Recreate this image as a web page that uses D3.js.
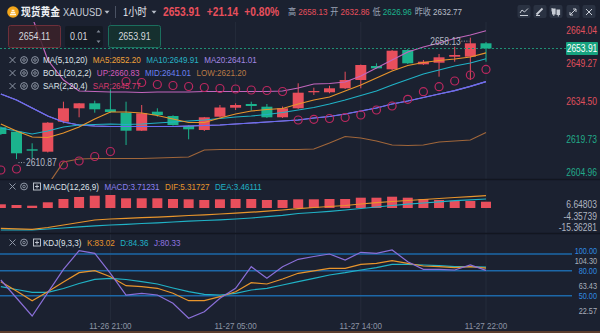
<!DOCTYPE html>
<html><head><meta charset="utf-8">
<script src="https://cdn.jsdelivr.net/npm/d3@7/dist/d3.min.js"></script>
<style>html,body{margin:0;padding:0;background:#1b2130;overflow:hidden}svg{display:block}</style>
</head><body><svg id="c" width="600" height="333"></svg>
<script>
// ---------------- DATA ----------------
const times = ["11-26 14:00","11-26 15:00","11-26 16:00","11-26 17:00","11-26 18:00","11-26 19:00","11-26 20:00","11-26 21:00",
"11-26 22:00","11-26 23:00","11-27 00:00","11-27 01:00","11-27 02:00","11-27 03:00","11-27 04:00","11-27 05:00",
"11-27 07:00","11-27 08:00","11-27 09:00","11-27 10:00","11-27 11:00","11-27 12:00","11-27 13:00","11-27 14:00",
"11-27 15:00","11-27 16:00","11-27 17:00","11-27 18:00","11-27 19:00","11-27 20:00","11-27 21:00","11-27 22:00"];
const open  = [2623.25,2621.53,2614.69,2613.75,2625.43,2630.64,2632.58,2630.25,2628.93,2621.92,2629.32,2627.64,2623.75,2622.20,2627.37,2630.87,2632.31,2631.26,2627.14,2630.64,2636.87,2636.87,2638.42,2641.65,2647.10,2645.81,2653.32,2647.76,2648.38,2650.72,2650.72,2655.93];
const high  = [2623.56,2621.92,2617.02,2625.31,2633.21,2632.70,2633.60,2638.03,2633.21,2631.92,2630.64,2627.92,2624.02,2627.26,2631.92,2632.58,2633.21,2632.31,2631.34,2640.37,2638.65,2639.43,2644.88,2647.68,2648.15,2653.32,2653.71,2649.43,2651.77,2654.61,2658.13,2656.44];
const low   = [2620.25,2610.87,2611.18,2613.44,2624.80,2627.14,2628.93,2628.81,2616.36,2621.81,2627.37,2623.87,2618.58,2621.81,2627.14,2629.98,2629.71,2626.86,2626.86,2630.37,2635.81,2636.48,2638.15,2638.42,2646.13,2645.54,2647.88,2647.49,2642.94,2648.77,2641.65,2648.77];
const close = [2620.64,2613.13,2614.14,2625.04,2630.64,2632.58,2630.25,2629.20,2621.92,2628.69,2628.03,2624.14,2622.47,2627.14,2630.95,2631.92,2631.53,2627.14,2630.64,2636.71,2637.37,2638.42,2641.65,2647.49,2646.20,2653.05,2648.15,2648.77,2650.48,2651.38,2655.93,2653.91];
const ma5   = [2624.53,2621.81,2619.47,2619.28,2621.03,2623.36,2626.48,2629.20,2629.20,2628.81,2627.84,2626.48,2625.11,2625.11,2626.86,2628.42,2629.59,2630.17,2630.56,2632.31,2633.87,2635.04,2637.37,2639.71,2642.43,2645.15,2647.29,2648.46,2649.24,2649.82,2650.60,2652.20];
const ma10  = [2622.97,2621.81,2620.64,2621.81,2623.36,2624.14,2624.34,2624.53,2624.34,2624.53,2624.92,2625.31,2625.70,2626.09,2626.67,2627.25,2627.64,2628.23,2629.01,2629.98,2630.95,2632.31,2633.87,2635.62,2637.37,2639.71,2641.85,2643.99,2645.54,2647.10,2648.27,2649.91];
const ma20  = [2636.20,2633.87,2630.76,2627.64,2625.31,2624.14,2623.75,2623.56,2623.56,2623.56,2623.56,2623.56,2623.75,2623.95,2624.14,2624.53,2624.92,2625.31,2625.70,2626.09,2626.87,2627.45,2628.42,2629.59,2630.76,2632.31,2633.48,2634.84,2636.20,2637.50,2639.20,2641.01];
const bollUp  = [2696.00,2680.60,2666.20,2649.43,2641.65,2637.37,2637.18,2636.98,2636.98,2636.79,2636.98,2636.98,2636.98,2637.18,2637.18,2637.18,2637.18,2637.18,2637.37,2638.54,2640.09,2640.29,2640.87,2643.21,2646.32,2649.43,2652.55,2654.49,2656.05,2657.80,2659.16,2660.83];
const bollMid = ma20;
const bollLow = [2571.60,2581.34,2593.01,2600.79,2609.74,2610.91,2611.11,2611.11,2611.11,2611.11,2611.30,2611.50,2611.69,2614.41,2614.61,2614.61,2614.61,2614.61,2614.61,2614.61,2614.80,2617.14,2619.67,2619.08,2617.91,2616.36,2616.16,2616.36,2617.53,2617.91,2618.30,2621.20];
const sar = [2606.63,2607.02,null,null,2608.58,2610.13,2611.88,2613.83,2641.07,2640.68,2639.90,2639.51,2639.12,2638.73,2638.34,2638.15,2637.76,2637.57,2637.18,2626.09,2626.36,2626.67,2627.06,2628.03,2629.98,2631.53,2634.14,2637.10,2639.04,2641.26,2643.60,2645.77];
const macdHist = [3.28,2.66,2.04,5.06,7.99,9.76,10.91,11.54,8.61,8.61,8.61,7.99,7.72,7.10,7.72,7.99,7.99,7.10,7.10,7.72,7.72,7.99,7.99,9.14,9.14,10.03,9.14,7.99,7.10,6.48,6.21,5.59];
const dif = [-18.0,-18.46,-18.9,-17.3,-15.08,-12.87,-10.65,-9.76,-9.14,-8.61,-8.07,-7.36,-6.65,-6.03,-5.32,-4.53,-3.73,-2.84,-1.77,-0.53,0.44,1.33,2.22,3.55,4.70,5.77,6.65,7.54,8.43,9.32,10.12,10.91];
const dea = [-19.52,-19.52,-19.52,-18.63,-17.75,-16.68,-15.79,-15.08,-14.46,-13.75,-13.13,-12.42,-11.71,-11.09,-10.47,-9.76,-8.87,-7.72,-6.48,-4.88,-3.99,-2.93,-1.77,-0.44,0.89,2.22,3.37,4.44,5.50,6.57,7.28,7.99];
const kVal = [66.79,55.64,44.0,54.8,66.43,77.58,79.98,72.78,61.99,60.79,58.87,52.88,44.0,44.0,48.8,54.8,65.59,64.03,70.02,76.86,79.86,82.85,82.85,87.65,88.85,91.97,88.85,85.61,84.77,83.57,84.77,83.02];
const dVal = [60.79,57.43,54.08,54.08,58.63,64.63,69.66,70.86,69.42,66.79,64.03,59.23,54.8,51.68,50.84,52.88,56.83,58.87,62.83,66.79,70.86,74.82,77.58,80.82,83.57,87.65,87.65,86.81,85.97,84.77,84.77,84.36];
const jVal = [68.82,47.24,25.66,53.6,81.65,103.96,100.84,76.86,50.84,52.88,50.84,40.89,22.9,30.82,46.88,58.87,84.77,70.86,84.77,93.65,97.0,100,92.81,102.04,100.84,104.8,90.77,81.65,81.65,80.82,86.81,80.33];

const priceTicks = [2664.04,2649.27,2634.50,2619.73,2604.96];
const macdTicks = [6.64803,-4.35739,-15.36281];
const macdLegend = [["MACD",3.71231],["DIF",5.31727],["DEA",3.46111]];
const kdjLevels = [100,80,50];
const kdjTicks = [104.30,63.43,22.57];
const xTickLabels = ["11-26 21:00","11-27 05:00","11-27 14:00","11-27 22:00"];
const quote = ["2653.91","+21.14","+0.80%"];
const statLabels = ["高","开","低","昨收"];
const statValues = [2658.13,2632.86,2626.96,2632.77];
const prevClose = 2632.77;
const bidAsk = ["2654.11","0.01","2653.91"];

// ---------------- STYLE ----------------
const BG="#1b2130", RED="#e84f5c", GRN="#1bb38d";
const C_MA5="#e8952c", C_MA10="#20b2c6", C_MA20="#9a7fe0", C_MID="#6a6cf0", C_UP="#c266bd", C_LOW="#a0663a", C_SAR="#bb285f", C_J="#8a6fd8";
const FF="'Liberation Sans', Arial, 'Noto Sans CJK SC', sans-serif";
const SX=0.85;

const svg=d3.select('#c');
svg.append('rect').attr('width',600).attr('height',333).attr('fill',BG);
const defs=svg.append('defs');
function clip(id,x,y,w,h){defs.append('clipPath').attr('id',id).append('rect').attr('x',x).attr('y',y).attr('width',w).attr('height',h);}
clip('cMain',0,22,566,157); clip('cMacd',0,190,566,43); clip('cKdj',0,236,566,85);

function T(g,x,y,s,o={}){
  return g.append('text').attr('transform',`translate(${x},${y}) scale(${o.sx||SX},1)`)
   .attr('dy','0.35em').attr('font-family',FF).attr('font-size',o.fs||9.5)
   .attr('font-weight',o.fw||'normal').attr('fill',o.c||'#dfe3ea')
   .attr('text-anchor',o.a||'start').text(s);
}
function tw(t){return t.node().getComputedTextLength()*SX;}

// ---------------- SCALES ----------------
const x=d3.scalePoint().domain(times).range([486-31*15.65,486]);
const yP=d3.scaleLinear().domain([2653.91,2610.87]).range([48.5,159.1]);
const yM=d3.scaleLinear().domain([0,10]).range([208,196.73]);
const yK=d3.scaleLinear().domain([100,50]).range([254,295.7]);
const yKT=d3.scaleLinear().domain([104.30,63.43]).range([260.8,286]);
const idx=d3.range(times.length);
const cw=11;

svg.append('g').selectAll('line').data(xTickLabels).join('line')
 .attr('x1',d=>x(d)).attr('x2',d=>x(d)).attr('y1',22).attr('y2',320)
 .attr('stroke','#252c3b').attr('stroke-width',1);
[179.5,233.5].forEach(y=>svg.append('line').attr('x1',0).attr('x2',600).attr('y1',y).attr('y2',y).attr('stroke','#121620').attr('stroke-width',1.5));

// ---------------- MAIN PANEL ----------------
const main=svg.append('g').attr('clip-path','url(#cMain)');
const lineP=d3.line().defined(d=>d!=null).x((d,i)=>x(times[i])).y(d=>yP(d));
const cg=main.append('g');
cg.selectAll('line').data(idx).join('line')
 .attr('x1',i=>x(times[i])).attr('x2',i=>x(times[i]))
 .attr('y1',i=>yP(high[i])).attr('y2',i=>yP(low[i]))
 .attr('stroke',i=>close[i]>=open[i]?RED:GRN).attr('stroke-width',1);
cg.selectAll('rect').data(idx).join('rect')
 .attr('x',i=>x(times[i])-cw/2).attr('width',cw)
 .attr('y',i=>yP(Math.max(open[i],close[i])))
 .attr('height',i=>Math.max(1,Math.abs(yP(open[i])-yP(close[i]))))
 .attr('fill',i=>close[i]>=open[i]?RED:GRN);
[[bollLow,C_LOW],[bollUp,C_UP],[ma20,C_MA20],[bollMid,C_MID],[ma10,C_MA10],[ma5,C_MA5]].forEach(([arr,c])=>{
  main.append('path').attr('d',lineP(arr)).attr('fill','none').attr('stroke',c).attr('stroke-width',1.2);
});
main.append('g').selectAll('circle').data(idx.filter(i=>sar[i]!=null)).join('circle')
 .attr('cx',i=>x(times[i])).attr('cy',i=>yP(sar[i])).attr('r',4)
 .attr('fill','none').attr('stroke',C_SAR).attr('stroke-width',1.2);

const hi=d3.maxIndex(high), lo=d3.minIndex(low);
const hy=yP(high[hi])+3.5, ly=yP(low[lo])+3.5;
main.append('line').attr('x1',x(times[hi])-9).attr('x2',x(times[hi])-1).attr('y1',hy).attr('y2',hy).attr('stroke','#9aa1ad').attr('stroke-dasharray','1,1.5');
T(main,x(times[hi])-9.5,hy,high[hi].toFixed(2),{a:'end',c:'#b4bac5',fs:10});
main.append('line').attr('x1',x(times[lo])+2).attr('x2',x(times[lo])+9).attr('y1',ly).attr('y2',ly).attr('stroke','#9aa1ad').attr('stroke-dasharray','1,1.5');
T(main,x(times[lo])+9.5,ly,low[lo].toFixed(2),{c:'#b4bac5',fs:10});

const last=close[close.length-1], cy=yP(last);
svg.append('line').attr('x1',0).attr('x2',566).attr('y1',cy).attr('y2',cy).attr('stroke','#1f8f74').attr('stroke-dasharray','2,2').attr('stroke-width',1);
priceTicks.forEach(v=>{
  const y=Math.max(30,Math.min(172,yP(v)+3.5));
  T(svg,597,y,v.toFixed(2),{a:'end',fs:10,c:v>prevClose?'#e0505d':'#22ab8a'});
});
svg.append('rect').attr('x',566).attr('y',cy-6.5).attr('width',32).attr('height',13).attr('rx',1).attr('fill','#17a27f');
T(svg,582,cy,last.toFixed(2),{a:'middle',fs:10,c:'#ffffff'});

// ---------------- MACD PANEL ----------------
const mg=svg.append('g').attr('clip-path','url(#cMacd)');
mg.selectAll('rect').data(idx).join('rect')
 .attr('x',i=>x(times[i])-5).attr('width',10)
 .attr('y',i=>Math.min(yM(0),yM(macdHist[i]))).attr('height',i=>Math.abs(yM(macdHist[i])-yM(0)))
 .attr('fill',i=>macdHist[i]>=0?RED:GRN);
const lineM=d3.line().x((d,i)=>x(times[i])).y(d=>yM(d));
mg.append('path').attr('d',lineM(dea)).attr('fill','none').attr('stroke',C_MA10).attr('stroke-width',1.2);
mg.append('path').attr('d',lineM(dif)).attr('fill','none').attr('stroke',C_MA5).attr('stroke-width',1.2);
macdTicks.forEach(v=>{
  const y=Math.min(227.5,yM(v)+3.5);
  T(svg,597,y,v.toFixed(5),{a:'end',fs:10,c:'#aeb4c0'});
});

// ---------------- KDJ PANEL ----------------
kdjLevels.forEach(v=>{
  svg.append('line').attr('x1',0).attr('x2',572).attr('y1',yK(v)).attr('y2',yK(v)).attr('stroke','#1d68a8').attr('stroke-width',1.5);
});
const kg=svg.append('g').attr('clip-path','url(#cKdj)');
const lineK=d3.line().x((d,i)=>x(times[i])).y(d=>yK(d));
[[dVal,C_MA10],[kVal,C_MA5],[jVal,C_J]].forEach(([a,c])=>kg.append('path').attr('d',lineK(a)).attr('fill','none').attr('stroke',c).attr('stroke-width',1.2));
kdjTicks.forEach(v=>T(svg,597,Math.min(312.7,yKT(v)),v.toFixed(2),{a:'end',fs:8.6,c:'#aab0bb'}));
kdjLevels.forEach(v=>T(svg,597,yK(v)+(v===100?-3.5:(v===80?0.6:0)),v.toFixed(2),{a:'end',fs:8.6,c:'#2f8be0'}));

xTickLabels.forEach(s=>T(svg,x(s),326,s,{a:'middle',fs:9.5,c:'#8d95a5'}));
svg.append('rect').attr('x',0).attr('y',331).attr('width',600).attr('height',2).attr('fill','#5c3d2c');

// ---------------- LEGENDS ----------------
function icoX(g,cx,cy){g.append('path').attr('d',`M${cx-3},${cy-3}L${cx+3},${cy+3}M${cx+3},${cy-3}L${cx-3},${cy+3}`).attr('stroke','#8f97a6').attr('stroke-width',1);}
function icoGear(g,cx,cy){g.append('circle').attr('cx',cx).attr('cy',cy).attr('r',3.4).attr('fill','none').attr('stroke','#8f97a6').attr('stroke-width',1);
 g.append('circle').attr('cx',cx).attr('cy',cy).attr('r',1.3).attr('fill','none').attr('stroke','#8f97a6').attr('stroke-width',0.9);}
function icoBox(g,cx,cy){g.append('rect').attr('x',cx-3.5).attr('y',cy-3.5).attr('width',7).attr('height',7).attr('fill','none').attr('stroke','#c9ced8').attr('stroke-width',0.9);
 g.append('path').attr('d',`M${cx-2},${cy}H${cx+2}M${cx},${cy-2}V${cy+2}`).attr('stroke','#c9ced8').attr('stroke-width',0.9);}
function legendRow(y,items,boxIcon){
  icoX(svg,12.5,y); icoGear(svg,24,y);
  if(boxIcon) icoBox(svg,37,y); else icoGear(svg,35,y);
  let xx=43;
  items.forEach(([s,c])=>{const t=T(svg,xx,y,s,{c,fs:9.5}); xx+=tw(t)+5.5;});
}
const L=a=>a[a.length-1];
legendRow(60,[["MA(5,10,20)","#dfe3ea"],["MA5:"+L(ma5).toFixed(2),"#f0a23b"],["MA10:"+L(ma10).toFixed(2),"#27b3c6"],["MA20:"+L(ma20).toFixed(2),"#a387e4"]]);
legendRow(73,[["BOLL(20,2,2)","#dfe3ea"],["UP:"+L(bollUp).toFixed(2),"#d45bbd"],["MID:"+L(bollMid).toFixed(2),"#6a80f2"],["LOW:"+L(bollLow).toFixed(2),"#b97a45"]]);
legendRow(86,[["SAR(2,20,4)","#dfe3ea"],["SAR:"+L(sar).toFixed(2),"#d83a6f"]]);
legendRow(186.5,[["MACD(12,26,9)","#dfe3ea"],[macdLegend[0][0]+":"+macdLegend[0][1].toFixed(5),"#8c80f0"],[macdLegend[1][0]+":"+macdLegend[1][1].toFixed(5),"#e8952c"],[macdLegend[2][0]+":"+macdLegend[2][1].toFixed(5),"#20b2c6"]],true);
legendRow(242.5,[["KDJ(9,3,3)","#dfe3ea"],["K:"+L(kVal).toFixed(2),"#e8952c"],["D:"+L(dVal).toFixed(2),"#20b2c6"],["J:"+L(jVal).toFixed(2),"#8f74e0"]],true);

// ---------------- HEADER ----------------
svg.append('circle').attr('cx',13).attr('cy',12).attr('r',5.8).attr('fill','#f2a51a');
svg.append('path').attr('d','M10,14.5h6M10.8,12.5h4.4M11.6,10.5h2.8').attr('stroke','#fff6e0').attr('stroke-width',1.3);
T(svg,21,12,"现货黄金",{fs:11.5,fw:'bold',c:'#eef0f4'});
T(svg,63,12,"XAUUSD",{fs:11,c:'#c9ced8'});
function caret(cx,cy){svg.append('path').attr('d',`M${cx-2.5},${cy-1.2}L${cx+2.5},${cy-1.2}L${cx},${cy+1.8}Z`).attr('fill','#b7bdc8');}
caret(107,12);
svg.append('line').attr('x1',115.5).attr('x2',115.5).attr('y1',6).attr('y2',18).attr('stroke','#4a5263');
T(svg,123,12,"1小时",{fs:11,c:'#e6e8ee'});
caret(154,12);
let hx=163;
quote.forEach((s,i)=>{const t=T(svg,hx,12,s,{fs:12,fw:'bold',c:RED}); hx+=tw(t)+(i==0?7:6);});
hx=288;
statLabels.forEach((s,i)=>{
  const t1=T(svg,hx,12,s,{fs:9.5,c:'#9aa3b5'}); hx+=tw(t1)+2.2;
  const v=statValues[i], c=v>prevClose?RED:(v<prevClose?GRN:'#b8bec9');
  const t2=T(svg,hx,12,v.toFixed(2),{fs:9.5,c}); hx+=tw(t2)+2.8;
});
const btn=[524,540,556,573,589];
btn.forEach(cx=>svg.append('rect').attr('x',cx-6.5).attr('y',5).attr('width',13).attr('height',13).attr('rx',2).attr('fill','#2a3242'));
const ic=svg.append('g').attr('stroke','#c8cdd6').attr('fill','none').attr('stroke-width',1);
ic.append('path').attr('d','M520,13L522,10L524.5,12L528,8.5M520,15.5H528');
ic.append('path').attr('d','M536.5,14.5L542.5,8.5').attr('stroke-width',1.8);
ic.append('path').attr('d','M536,15.5H540');
ic.append('rect').attr('x',552.5).attr('y',9).attr('width',2.6).attr('height',5).attr('fill','#c8cdd6');
ic.append('rect').attr('x',557).attr('y',10).attr('width',2.6).attr('height',4.5).attr('fill','#c8cdd6');
ic.append('path').attr('d','M552,11.5V8M558.3,15V16.5M553.8,14V16');
ic.append('path').attr('d','M570,15L576,9M573,9H576V12M570,12V15H573');
ic.append('path').attr('d','M586,9L592,15M592,9L586,15');

svg.append('rect').attr('x',8.5).attr('y',25.5).attr('width',52).attr('height',22).attr('rx',2).attr('fill','#3b2129').attr('fill-opacity',0.85).attr('stroke','#6e2f3a');
T(svg,34.5,36.5,bidAsk[0],{a:'middle',fs:10.5,c:'#d5d7dd'});
svg.append('rect').attr('x',65).attr('y',26).attr('width',38).attr('height',21).attr('rx',2).attr('fill','#141923').attr('fill-opacity',0.9);
T(svg,70,36.5,bidAsk[1],{fs:10.5,c:'#d5d7dd'});
svg.append('path').attr('d','M96.5,32.5L98.5,30L100.5,32.5ZM96.5,40.5L98.5,43L100.5,40.5Z').attr('fill','#7e8694');
svg.append('rect').attr('x',108.5).attr('y',25.5).attr('width',52).attr('height',22).attr('rx',2).attr('fill','#14332f').attr('fill-opacity',0.85).attr('stroke','#1b6e5d');
T(svg,134.5,36.5,bidAsk[2],{a:'middle',fs:10.5,c:'#d5d7dd'});
</script></body></html>
